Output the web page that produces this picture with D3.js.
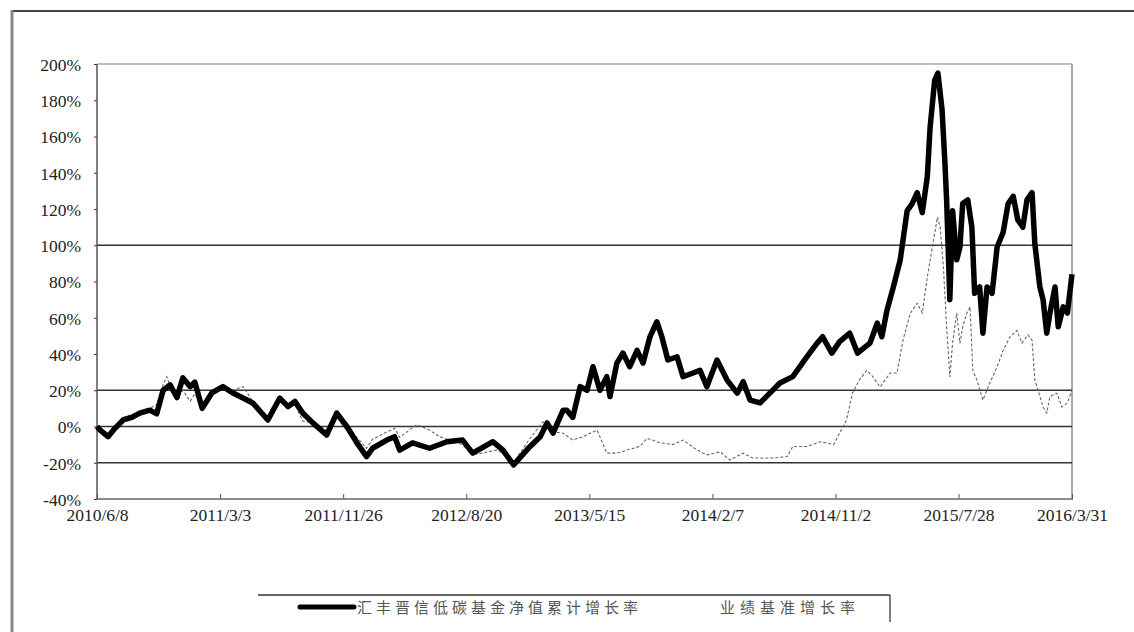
<!DOCTYPE html>
<html><head><meta charset="utf-8">
<script src="https://cdn.jsdelivr.net/npm/d3@7"></script>
<style>
html,body{margin:0;padding:0;background:#fff;}
svg{display:block;}
</style>
</head><body>
<svg id="c" width="1134" height="632"></svg>
<script>
// ---- data ----
const fundDates = ["2010-06-08","2010-06-15","2010-07-02","2010-07-17","2010-08-04","2010-08-23","2010-09-09","2010-10-01","2010-10-16","2010-10-30","2010-11-14","2010-11-29","2010-12-12","2010-12-28","2011-01-07","2011-01-23","2011-02-13","2011-03-09","2011-03-31","2011-04-22","2011-05-13","2011-06-15","2011-07-11","2011-07-29","2011-08-13","2011-08-30","2011-09-21","2011-10-21","2011-11-12","2011-12-04","2011-12-26","2012-01-16","2012-01-29","2012-02-29","2012-03-17","2012-03-28","2012-04-25","2012-06-01","2012-07-09","2012-08-12","2012-09-03","2012-10-17","2012-11-08","2012-12-01","2013-01-06","2013-01-28","2013-02-12","2013-02-25","2013-03-19","2013-03-27","2013-04-09","2013-04-25","2013-05-10","2013-05-23","2013-06-07","2013-06-22","2013-06-29","2013-07-14","2013-07-27","2013-08-11","2013-08-27","2013-09-09","2013-09-24","2013-10-09","2013-10-20","2013-11-02","2013-11-22","2013-12-05","2013-12-27","2014-01-11","2014-01-26","2014-02-17","2014-03-11","2014-04-02","2014-04-15","2014-04-30","2014-05-22","2014-06-12","2014-07-04","2014-08-01","2014-09-01","2014-09-23","2014-10-05","2014-10-25","2014-11-11","2014-12-03","2014-12-20","2015-01-16","2015-02-01","2015-02-11","2015-02-22","2015-03-08","2015-03-23","2015-04-07","2015-04-18","2015-04-29","2015-05-10","2015-05-21","2015-05-27","2015-06-06","2015-06-13","2015-06-22","2015-06-28","2015-07-02","2015-07-09","2015-07-15","2015-07-24","2015-07-31","2015-08-06","2015-08-17","2015-08-26","2015-09-01","2015-09-12","2015-09-19","2015-09-28","2015-10-09","2015-10-20","2015-11-02","2015-11-13","2015-11-24","2015-12-04","2015-12-15","2015-12-24","2016-01-04","2016-01-10","2016-01-21","2016-01-28","2016-02-05","2016-02-12","2016-02-23","2016-03-01","2016-03-12","2016-03-21","2016-03-31"];
const fundValues = [0,-2,-5.6,-1,3.6,5,7.4,9,7,20,23,16,26.8,22,24.5,10,18.5,22,18.5,15.7,13,3.6,15.7,11,13.8,7.4,2,-4.7,7.4,0,-9,-16.6,-12,-7.5,-5.6,-13,-9,-12,-8.4,-7.5,-14.7,-8.4,-13,-21.2,-11,-5.6,2,-3.6,9,9,5,22,20,33,20,27.5,16.5,35,40.5,33,42,35,49.5,57.8,49.5,36.7,38.5,27.5,29.5,31,22,36.7,25.6,18.4,24.7,14.6,13,18.4,24,27.5,38.5,46,49.5,40.5,46.8,51.5,40.5,46,57,49.5,64,77,92,119,123,129,118,138,165,191,195,175,147,125,70,119,92,99,123,125,110,73.5,77,51.5,77,73.5,99,107,123,127,114,110,125,129,101,77,70,51.5,62.6,77,55,66,62.6,84];

const benchDates = ["2010-06-08","2010-07-02","2010-07-17","2010-08-04","2010-09-09","2010-10-01","2010-10-16","2010-10-28","2010-11-07","2010-11-18","2010-11-29","2010-12-12","2010-12-28","2011-01-07","2011-01-23","2011-02-13","2011-03-09","2011-03-31","2011-04-22","2011-05-13","2011-06-15","2011-07-11","2011-07-29","2011-08-13","2011-08-30","2011-09-21","2011-10-21","2011-11-12","2011-12-04","2011-12-26","2012-01-16","2012-01-29","2012-02-29","2012-03-17","2012-03-28","2012-05-04","2012-06-01","2012-06-23","2012-07-09","2012-08-12","2012-09-03","2012-10-26","2012-11-08","2012-11-28","2013-01-06","2013-02-03","2013-02-25","2013-03-19","2013-04-09","2013-05-01","2013-06-01","2013-06-22","2013-07-14","2013-08-05","2013-09-02","2013-09-18","2013-10-16","2013-11-13","2013-12-05","2014-01-05","2014-01-26","2014-02-24","2014-03-17","2014-04-15","2014-05-06","2014-06-19","2014-07-20","2014-08-01","2014-09-01","2014-09-30","2014-10-29","2014-11-11","2014-11-26","2014-12-09","2014-12-24","2015-01-09","2015-01-23","2015-02-07","2015-03-01","2015-03-16","2015-03-29","2015-04-14","2015-04-29","2015-05-10","2015-05-21","2015-06-01","2015-06-12","2015-06-18","2015-06-25","2015-07-02","2015-07-09","2015-07-15","2015-07-24","2015-07-31","2015-08-06","2015-08-15","2015-08-22","2015-08-28","2015-09-06","2015-09-19","2015-10-04","2015-10-20","2015-11-02","2015-11-17","2015-12-02","2015-12-13","2015-12-26","2016-01-04","2016-01-10","2016-01-17","2016-01-28","2016-02-05","2016-02-12","2016-02-27","2016-03-09","2016-03-21","2016-03-31"];
const benchValues = [0,-4,0,5,8,10,12,22,27.5,20,15,20,14,18,12,19,22,20,22,14,5,15,10,12,3,2,-2,5,-2,-6,-12,-7,-3,-1,-6,1,-2,-5.6,-7,-10,-15.7,-13,-15,-21,-6.5,2.6,-3,-3.7,-7.5,-5.6,-2,-14.7,-14.7,-13,-11,-6.5,-9,-10,-7.5,-13,-15.7,-14,-18.5,-14.7,-17.4,-17.4,-16.6,-11,-11,-8.4,-10,-3.7,3.6,18.4,25.6,31,27.3,21.8,29.5,29.5,47.7,62.6,68,62.6,82.5,99,115.6,110,88,55,27.3,46,62.6,46,55,62.6,66,31,25.6,14.6,24,33,42,49.5,53,46,50.5,47.7,25.6,20,10.8,7.4,16.5,18.4,10.8,13,20];

const xTickDates = ["2010-06-08","2011-03-03","2011-11-26","2012-08-20","2013-05-15","2014-02-07","2014-11-02","2015-07-28","2016-03-31"];
const xTickLabels = ["2010/6/8","2011/3/3","2011/11/26","2012/8/20","2013/5/15","2014/2/7","2014/11/2","2015/7/28","2016/3/31"];
const yTicks = [-40,-20,0,20,40,60,80,100,120,140,160,180,200];
const gridValues = [100,20,0,-20];
const legendLabels = ["汇丰晋信低碳基金净值累计增长率","业绩基准增长率"];

// ---- chart ----
const parse = d3.timeParse("%Y-%m-%d");
const fund = fundDates.map((d,i)=>({date:parse(d),v:fundValues[i]}));
const bench = benchDates.map((d,i)=>({date:parse(d),v:benchValues[i]}));

const svg = d3.select("#c");
const L=97,R=1072,T=64,B=499;
const x = d3.scaleTime().domain([parse("2010-06-08"),parse("2016-03-31")]).range([L,R]);
const y = d3.scaleLinear().domain([-40,200]).range([B,T]);
const serif = "'Liberation Serif','DejaVu Serif',serif";

// outer frame
svg.append("line").attr("x1",12).attr("x2",1134).attr("y1",11).attr("y2",11).attr("stroke","#444").attr("stroke-width",2);
svg.append("line").attr("x1",12).attr("x2",12).attr("y1",10).attr("y2",632).attr("stroke","#888").attr("stroke-width",3);

// plot border (top/right light)
svg.append("line").attr("x1",L).attr("x2",R).attr("y1",T).attr("y2",T).attr("stroke","#aaa").attr("stroke-width",1.5);
svg.append("line").attr("x1",R).attr("x2",R).attr("y1",T).attr("y2",B).attr("stroke","#aaa").attr("stroke-width",2);

// gridlines
svg.append("g").selectAll("line").data(gridValues).join("line")
  .attr("x1",L).attr("x2",R).attr("y1",d=>y(d)).attr("y2",d=>y(d))
  .attr("stroke","#333").attr("stroke-width",1.6);

// y axis
const ya = svg.append("g").attr("transform",`translate(${L},0)`)
  .call(d3.axisLeft(y).tickValues(yTicks).tickSize(3).tickPadding(13).tickFormat(d=>d+"%"));
ya.select(".domain").remove();
ya.selectAll("line").attr("stroke","#333");
ya.selectAll("text").attr("font-family",serif).attr("font-size",17.5).attr("fill","#222").attr("dy","0.36em");
svg.append("line").attr("x1",L).attr("x2",L).attr("y1",T).attr("y2",B).attr("stroke","#555").attr("stroke-width",1.5);

// x axis
const xa = svg.append("g").attr("transform",`translate(0,${B})`)
  .call(d3.axisBottom(x).tickValues(xTickDates.map(parse)).tickSize(-5).tickPadding(10)
    .tickFormat((d,i)=>xTickLabels[i]));
xa.select(".domain").remove();
xa.selectAll("line").attr("stroke","#555");
xa.selectAll("text").attr("font-family",serif).attr("font-size",17.5).attr("fill","#222");
svg.append("line").attr("x1",L).attr("x2",R+1).attr("y1",B).attr("y2",B).attr("stroke","#666").attr("stroke-width",1.5);

// lines
const line = d3.line().x(d=>x(d.date)).y(d=>y(d.v));
svg.append("path").datum(bench).attr("d",line).attr("fill","none")
  .attr("stroke","#666").attr("stroke-width",1.1).attr("stroke-dasharray","3,2");
svg.append("path").datum(fund).attr("d",line).attr("fill","none")
  .attr("stroke","#000").attr("stroke-width",5.5).attr("stroke-linejoin","round");

// legend
const lg = svg.append("g");
lg.append("line").attr("x1",258).attr("x2",890).attr("y1",595).attr("y2",595).attr("stroke","#333").attr("stroke-width",1.5);
lg.append("line").attr("x1",890).attr("x2",890).attr("y1",595).attr("y2",622).attr("stroke","#555").attr("stroke-width",1.5);
lg.append("line").attr("x1",300).attr("x2",354).attr("y1",607).attr("y2",607).attr("stroke","#000").attr("stroke-width",5).attr("stroke-linecap","round");
lg.append("text").attr("x",357).attr("y",613).text(legendLabels[0])
  .attr("font-family","'Noto Sans CJK SC',sans-serif").attr("font-size",15).attr("letter-spacing",4).attr("fill","#555");
lg.append("text").attr("x",720).attr("y",613).text(legendLabels[1])
  .attr("font-family","'Noto Sans CJK SC',sans-serif").attr("font-size",15).attr("letter-spacing",5).attr("fill","#555");
</script>
</body></html>
